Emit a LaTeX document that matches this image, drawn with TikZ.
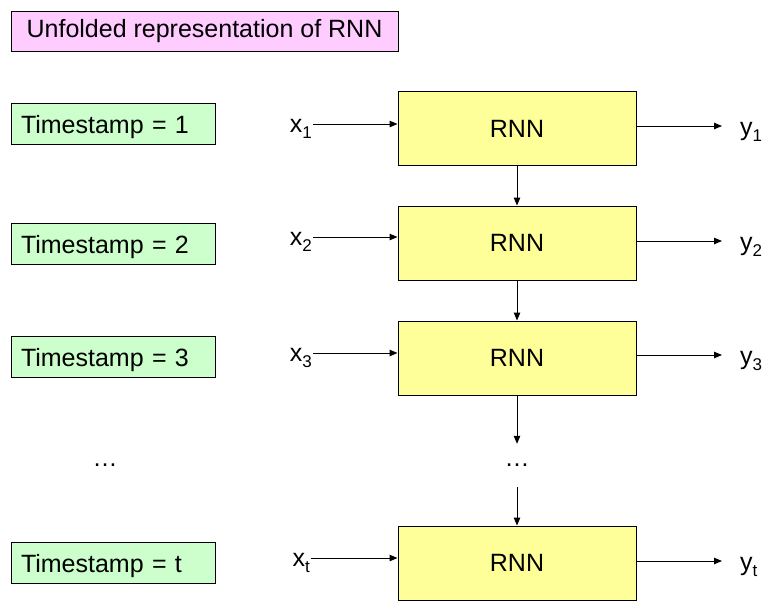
\documentclass[tikz,border=0pt]{standalone}
\usepackage{fontspec}
\setmainfont{Liberation Sans}
\usetikzlibrary{arrows.meta}
\definecolor{pinkfill}{HTML}{FFCCFF}
\definecolor{greenfill}{HTML}{CCFFCC}
\definecolor{yellowfill}{HTML}{FFFF99}
\newcommand\lowsub[1]{\raisebox{-6pt}{\fontsize{17}{17}\selectfont #1}}
\tikzset{
  base/.style={font=\fontsize{25}{30}\selectfont},
  titlebox/.style={base, draw, line width=1pt, fill=pinkfill, minimum width=387pt, minimum height=40pt, inner sep=0pt},
  stampbox/.style={base, draw, line width=1pt, fill=greenfill, text width=184pt, align=left, inner xsep=10pt, inner ysep=0pt, minimum height=41pt, text height=19pt, text depth=0pt},
  rnnbox/.style={base, draw, line width=1pt, fill=yellowfill, minimum width=238pt, minimum height=74pt, inner sep=0pt, text height=17pt, text depth=0pt},
  lbl/.style={base, inner sep=0pt},
  conn/.style={line width=1pt, -{Triangle[length=8pt,width=6.5pt]}}
}
\begin{document}
\begin{tikzpicture}[x=1pt,y=-1pt]
\useasboundingbox (0,0) rectangle (775,611);
\node[titlebox] (title) at (204.5,31) {Unfolded representation of RNN};

\node[stampbox] (t1) at (113,123.5) {Timestamp = 1};
\node[stampbox] (t2) at (113,243.5) {Timestamp = 2};
\node[stampbox] (t3) at (113,357) {Timestamp = 3};
\node[lbl] (ldots) at (105,465) {…};
\node[stampbox] (tt) at (113,563) {Timestamp = t};

\node[rnnbox] (r1) at (517,128.5) {RNN};
\node[rnnbox] (r2) at (517,243) {RNN};
\node[rnnbox] (r3) at (517,358) {RNN};
\node[lbl, minimum height=43pt] (mdots) at (517,465.5) {…};
\node[rnnbox] (rt) at (517,563) {RNN};

\node[lbl, anchor=base east] (x1) at (312,132) {x\lowsub{1}};
\node[lbl, anchor=base east] (x2) at (312,245) {x\lowsub{2}};
\node[lbl, anchor=base east] (x3) at (312,361) {x\lowsub{3}};
\node[lbl, anchor=base east] (xt) at (310,566) {x\lowsub{t}};

\node[lbl, anchor=base west] (y1) at (740,135) {y\lowsub{1}};
\node[lbl, anchor=base west] (y2) at (740,250) {y\lowsub{2}};
\node[lbl, anchor=base west] (y3) at (740,364) {y\lowsub{3}};
\node[lbl, anchor=base west] (yt) at (740,570) {y\lowsub{t}};

\foreach \i in {1,2,3,t} {
  \draw[conn] ([xshift=1pt,yshift=8pt]x\i.base east) -- ([yshift=8pt]x\i.base east -| r\i.west);
  \draw[conn] ([yshift=9pt]r\i.east |- y\i.base west) -- ([xshift=-18pt,yshift=9pt]y\i.base west);
}
\draw[conn] (r1.south) -- (r2.north);
\draw[conn] (r2.south) -- (r3.north);
\draw[conn] (r3.south) -- (mdots.north);
\draw[conn] (mdots.south) -- (rt.north);
\end{tikzpicture}
\end{document}
